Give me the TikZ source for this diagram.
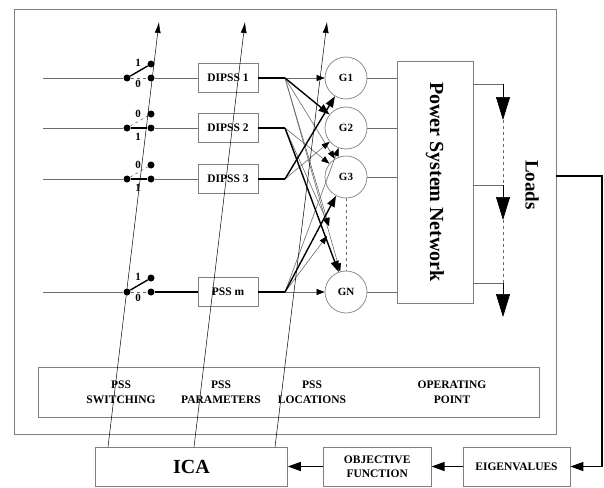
\documentclass[tikz,border=0pt]{standalone}
\usepackage{fontspec}
\setmainfont{Liberation Serif}
\usetikzlibrary{arrows.meta, positioning}
\definecolor{linegray}{gray}{0.42}
\definecolor{boxgray}{gray}{0.5}

\begin{document}
\begin{tikzpicture}[x=1pt, y=-1pt, node distance=31pt,
  wire/.style={draw=linegray, line width=0.6pt},
  bold wire/.style={draw=black, line width=1.4pt},
  box/.style={rectangle, draw=boxgray, line width=0.8pt, minimum width=#1, minimum height=39pt, inner sep=0pt, align=center, font=\fontsize{11.5}{14}\selectfont\bfseries},
  box/.default=60pt,
  pssbox/.style={box, minimum height=29pt},
  gen/.style={circle, draw=boxgray, line width=0.7pt, minimum size=42pt, inner sep=0pt, font=\fontsize{11}{12}\selectfont\bfseries},
  pin/.style={circle, fill=black, inner sep=0pt, minimum size=7pt},
  lbl/.style={inner sep=0pt, font=\fontsize{11}{11}\selectfont\bfseries},
  fan/.style={wire, -{Triangle[length=8pt, width=6pt, color=black]}},
  bold fan/.style={bold wire, -{Triangle[length=11pt, width=8pt]}},
  ga/.style={draw=black, line width=0.5pt, -{Latex[length=11pt, width=6pt]}},
  load/.style={draw=black, line width=0.6pt, -{Triangle[length=23pt, width=14pt]}},
  flow/.style={draw=black, line width=1.4pt, -{Triangle[length=13pt, width=9pt]}},
  caption/.style={align=center, inner sep=0pt, font=\fontsize{11.5}{15}\selectfont\bfseries}]
  \useasboundingbox (0,0) rectangle (604,487);

  % frames
  \node[draw=boxgray, line width=0.9pt, minimum width=542pt, minimum height=425pt, inner sep=0pt] (frame) at (285,221.5) {};
  \node[draw=boxgray, line width=0.8pt, minimum width=501pt, minimum height=50pt, inner sep=0pt] (params) at (288.5,392) {};
  \node[caption] (sw) at (121,392) {PSS\\SWITCHING};
  \node[caption] (pa) at (221,392) {PSS\\PARAMETERS};
  \node[caption] (lo) at (312,392) {PSS\\LOCATIONS};
  \node[caption] (op) at (452,392) {OPERATING\\POINT};

  % stabilisers and switches
  \foreach \i/\y in {1/78, 2/128, 3/179}
    \node[pssbox] (pss\i) at (228,\y) {DIPSS \i};
  \node[pssbox] (pssm) at (228,292) {PSS m};
  \foreach \i/\y in {1/78, 2/128, 3/179, m/292} {
    \coordinate (in\i) at (43,\y);
    \node[pin] (sw\i) at (127,\y) {};
    \node[pin] (on\i) at (151,\y-14) {};
    \node[pin] (off\i) at (151,\y) {};
    \coordinate (b\i) at (285,\y);
    \draw[wire] (in\i) -- (sw\i);
  }
  \foreach \i/\y in {1/78, m/292} {
    \draw[bold wire] (sw\i) -- (on\i);
    \draw[wire, dashed] (sw\i) -- (off\i);
    \node[lbl] at (138,\y-15) {1};
    \node[lbl] at (138,\y+6) {0};
  }
  \foreach \i/\y in {2/128, 3/179} {
    \draw[wire, dashed] (sw\i) -- (on\i);
    \draw[bold wire] (sw\i) -- (off\i);
    \node[lbl] at (138,\y-14) {0};
    \node[lbl] at (138,\y+9) {1};
  }
  \foreach \i in {1,2,3}
    \draw[wire] (off\i) -- (pss\i);
  \draw[bold wire] (offm) -- (pssm);
  \foreach \i in {1,2,3,m}
    \draw[bold wire] (pss\i) -- (b\i);

  % generators
  \foreach \g/\y/\t in {1/78/G1, 2/128/G2, 3/177/G3, n/292/GN}
    \node[gen] (g\g) at (346,\y) {\t};
  \draw[wire, dashed] (g3) -- (gn);
  \coordinate (d1) at (329,226);
  \coordinate (d2) at (327,236);
  \foreach \s/\t in {b1/g1, b1/g3, b1/d1, b1/gn, b2/g3, b2/d1, b3/g2, bm/g2, bm/d2, bm/gn}
    \draw[fan] (\s) -- (\t);
  \foreach \s/\t in {b1/g2, b2/gn, b3/g1, bm/g3}
    \draw[bold fan] (\s) -- (\t);

  % network and loads
  \node[draw=boxgray, line width=0.8pt, minimum width=76pt, minimum height=242pt, inner sep=0pt] (psn) at (435,182) {};
  \node[rotate=-90, inner sep=0pt, font=\fontsize{20}{22}\selectfont\bfseries] (psnlabel) at (psn.center) {Power System Network};
  \foreach \g in {1,2,3,n}
    \draw[wire] (g\g) -- (g\g -| psn.west);
  \foreach \k/\y/\tip in {1/84/120, 2/185/220, 3/283/317} {
    \coordinate (ld\k) at (503,\y);
    \coordinate (lt\k) at (503,\tip);
    \draw[wire] (ld\k -| psn.east) -- (ld\k);
    \draw[load] (ld\k) -- (lt\k);
  }
  \draw[wire, dashed] (lt1) -- (ld2);
  \draw[wire, dashed] (lt2) -- (ld3);
  \node[rotate=-90, inner sep=0pt, font=\fontsize{19}{20}\selectfont\bfseries] (loads) at (532,185) {Loads};

  % optimisation loop
  \node[box=107pt] (eig) at (516.5,466.5) {EIGENVALUES};
  \node[box=108pt, left=of eig] (obj) {OBJECTIVE\\FUNCTION};
  \node[box=192pt, left=35pt of obj, font=\fontsize{20}{22}\selectfont\bfseries] (ica) {ICA};
  \coordinate (fbs) at (556,176);
  \coordinate (fbc) at (602,176);
  \draw[flow] (fbs) -- (fbc) |- (eig);
  \draw[flow] (eig) -- (obj);
  \draw[flow] (obj) -- (ica);
  \foreach \k/\xs/\xt in {1/108/159, 2/194/245, 3/275/327} {
    \coordinate (us\k) at (\xs,447);
    \coordinate (ut\k) at (\xt,22);
    \draw[ga] (us\k) -- (ut\k);
  }
\end{tikzpicture}
\end{document}
